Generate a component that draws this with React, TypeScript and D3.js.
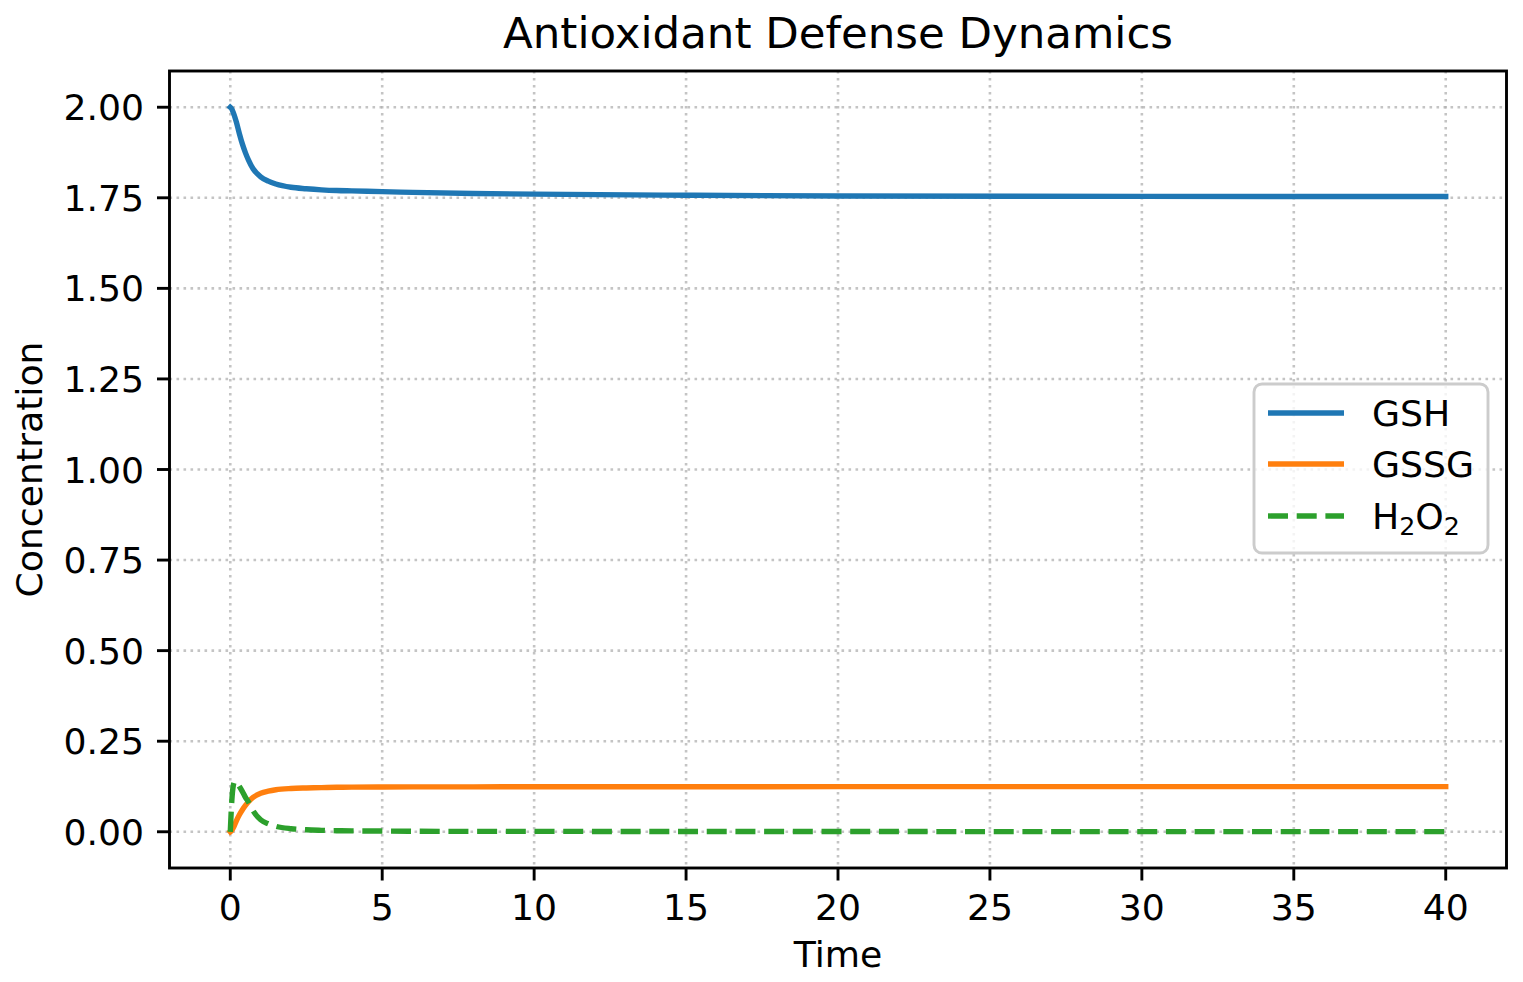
import React from "react";
import * as d3 from "d3";

const timePoints = [0, 0.05, 0.1, 0.15, 0.2, 0.3, 0.4, 0.5, 0.6, 0.75, 1.0, 1.25, 1.5, 2.0, 2.5, 3.0, 3.5, 4, 5, 6, 8, 10, 15, 20, 30, 40];
const gshValues = [2.0, 1.995, 1.985, 1.973, 1.959, 1.927, 1.898, 1.874, 1.854, 1.83, 1.808, 1.796, 1.788, 1.779, 1.775, 1.772, 1.77, 1.769, 1.767, 1.765, 1.762, 1.76, 1.757, 1.755, 1.754, 1.7535];
const gssgValues = [0, 0.004, 0.011, 0.02, 0.03, 0.047, 0.061, 0.073, 0.083, 0.095, 0.106, 0.112, 0.116, 0.1195, 0.121, 0.122, 0.1228, 0.1232, 0.1236, 0.1238, 0.124, 0.1242, 0.1244, 0.1245, 0.1245, 0.1245];
const h2o2Values = [0, 0.085, 0.128, 0.139, 0.137, 0.125, 0.111, 0.095, 0.082, 0.058, 0.033, 0.022, 0.015, 0.0085, 0.0055, 0.004, 0.003, 0.0025, 0.002, 0.0015, 0.001, 0.001, 0.0008, 0.0006, 0.0005, 0.0005];

const xTicks = [0, 5, 10, 15, 20, 25, 30, 35, 40];
const yTicks = [0, 0.25, 0.5, 0.75, 1.0, 1.25, 1.5, 1.75, 2.0];

const seriesNames = ["GSH", "GSSG", "H2O2"];
const seriesColors = ["#1f77b4", "#ff7f0e", "#2ca02c"];

const W = 1523;
const H = 982;
const FONT = "'DejaVu Sans', sans-serif";

export default function App() {
  const left = 169.5, right = 1506.5, top = 71, bottom = 868;
  const x = d3.scaleLinear().domain([-2, 42]).range([left, right]);
  const y = d3.scaleLinear().domain([-0.1, 2.1]).range([bottom, top]);

  const series = [gshValues, gssgValues, h2o2Values];
  const line = d3
    .line<number>()
    .x((_, i) => x(timePoints[i]))
    .y((d) => y(d))
    .curve(d3.curveMonotoneX);

  const lw = 5.4;
  const fs = 36.2;
  const dash = "20,8.7";
  const legX = 1254, legY = 384, legW = 234, legH = 169;
  const rowY = [413, 464, 516];

  return (
    <svg width={W} height={H} style={{ position: "absolute", left: 0, top: 0, background: "#fff" }} fontFamily={FONT}>
      <rect x={0} y={0} width={W} height={H} fill="#fff" />
      {/* grid */}
      <g>
        {xTicks.map((t) => (
          <line key={"gx" + t} x1={x(t)} x2={x(t)} y1={top} y2={bottom} stroke="#b0b0b0" strokeOpacity={0.75} strokeWidth={2.6} strokeDasharray="2.6,4.4" />
        ))}
        {yTicks.map((t) => (
          <line key={"gy" + t} x1={left} x2={right} y1={y(t)} y2={y(t)} stroke="#b0b0b0" strokeOpacity={0.75} strokeWidth={2.6} strokeDasharray="2.6,4.4" />
        ))}
      </g>
      {/* lines */}
      <g>
        {series.map((vals, i) => (
          <path
            key={seriesNames[i]}
            d={line(vals) || ""}
            fill="none"
            stroke={seriesColors[i]}
            strokeWidth={lw}
            strokeLinejoin="round"
            strokeLinecap={i === 2 ? "butt" : "square"}
            strokeDasharray={i === 2 ? dash : undefined}
          />
        ))}
      </g>
      {/* spines */}
      <rect x={left} y={top} width={right - left} height={bottom - top} fill="none" stroke="#000" strokeWidth={2.9} />
      {/* x ticks */}
      {xTicks.map((t) => (
        <g key={"xt" + t}>
          <line x1={x(t)} x2={x(t)} y1={bottom} y2={bottom + 12.5} stroke="#000" strokeWidth={2.9} />
          <text x={x(t)} y={bottom + 52} fontSize={fs} textAnchor="middle" fill="#000">
            {t}
          </text>
        </g>
      ))}
      {/* y ticks */}
      {yTicks.map((t) => (
        <g key={"yt" + t}>
          <line x1={left - 12.5} x2={left} y1={y(t)} y2={y(t)} stroke="#000" strokeWidth={2.9} />
          <text x={left - 25.5} y={y(t) + 13} fontSize={fs} textAnchor="end" fill="#000">
            {t.toFixed(2)}
          </text>
        </g>
      ))}
      {/* axis labels */}
      <text x={(left + right) / 2} y={967} fontSize={fs} textAnchor="middle" fill="#000">
        Time
      </text>
      <text transform={`translate(42, ${(top + bottom) / 2}) rotate(-90)`} fontSize={fs} textAnchor="middle" fill="#000">
        Concentration
      </text>
      {/* title */}
      <text x={(left + right) / 2} y={48} fontSize={43.5} textAnchor="middle" fill="#000">
        Antioxidant Defense Dynamics
      </text>
      {/* legend */}
      <g>
        <rect x={legX} y={legY} width={legW} height={legH} rx={8} ry={8} fill="#fff" fillOpacity={0.8} stroke="#cccccc" strokeWidth={2.9} />
        {seriesNames.map((name, i) => (
          <g key={"leg" + name}>
            <line
              x1={1268}
              x2={1344}
              y1={rowY[i]}
              y2={rowY[i]}
              stroke={seriesColors[i]}
              strokeWidth={lw}
              strokeDasharray={i === 2 ? dash : undefined}
            />
            {i < 2 ? (
              <text x={1372} y={rowY[i] + 13} fontSize={fs} fill="#000">
                {name}
              </text>
            ) : (
              <text x={1372} y={rowY[i] + 13} fontSize={fs} fill="#000">
                H
                <tspan fontSize={25.3} dy={6}>2</tspan>
                <tspan dy={-6}>O</tspan>
                <tspan fontSize={25.3} dy={6}>2</tspan>
              </text>
            )}
          </g>
        ))}
      </g>
    </svg>
  );
}
